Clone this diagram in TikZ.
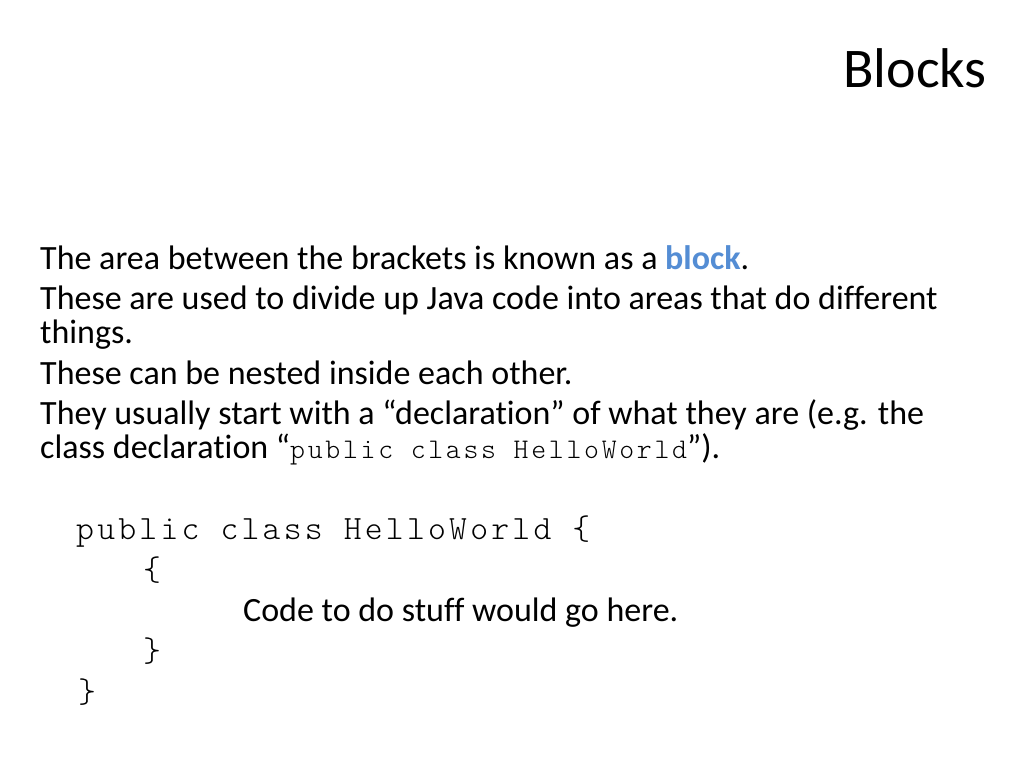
\documentclass[tikz,border=0pt]{standalone}
\usepackage{fontspec}
\setmainfont{Carlito}[Ligatures=NoCommon]
\setmonofont{Latin Modern Mono Light}[LetterSpace=9.5]
\definecolor{blockblue}{RGB}{84,141,212}
\begin{document}
\begin{tikzpicture}[x=1pt,y=-1pt,
  txt/.style={anchor=base west,inner sep=0pt,font=\fontsize{34}{34}\selectfont},
  code/.style={anchor=base west,inner sep=0pt,font=\fontsize{34}{40}\ttfamily},
  big/.style={anchor=base west,inner sep=0pt,font=\fontsize{34}{40}\selectfont},
  ttl/.style={anchor=base east,inner sep=0pt,font=\fontsize{56}{64}\selectfont}]
\fill[white] (0,0) rectangle (1024,768);
\useasboundingbox (0,0) rectangle (1024,768);
\node[ttl] (title) at (987,87) {Blocks};
\node[txt] (l1) at (40,269) {The area between the brackets is known as a \textcolor{blockblue}{\bfseries block}.};
\node[txt] (l2) at (40,309) {These are used to divide up Java code into areas that do different};
\node[txt] (l3) at (40,343) {things.};
\node[txt] (l4) at (40,384) {These can be nested inside each other.};
\node[txt] (l5) at (40,424) {They usually start with a “declaration” of what they are (e.g. the};
\node[txt] (l6) at (40,458) {class declaration “{\fontsize{28.4}{34}\ttfamily public class HelloWorld}”).};
\node[code] (c1) at (76,539) {public class HelloWorld \{};
\node[code] (c2) at (143,580) {\{};
\node[big] (c3) at (243,621) {Code to do stuff would go here.};
\node[code] (c4) at (143,661) {\}};
\node[code] (c5) at (78,702) {\}};
\end{tikzpicture}
\end{document}
